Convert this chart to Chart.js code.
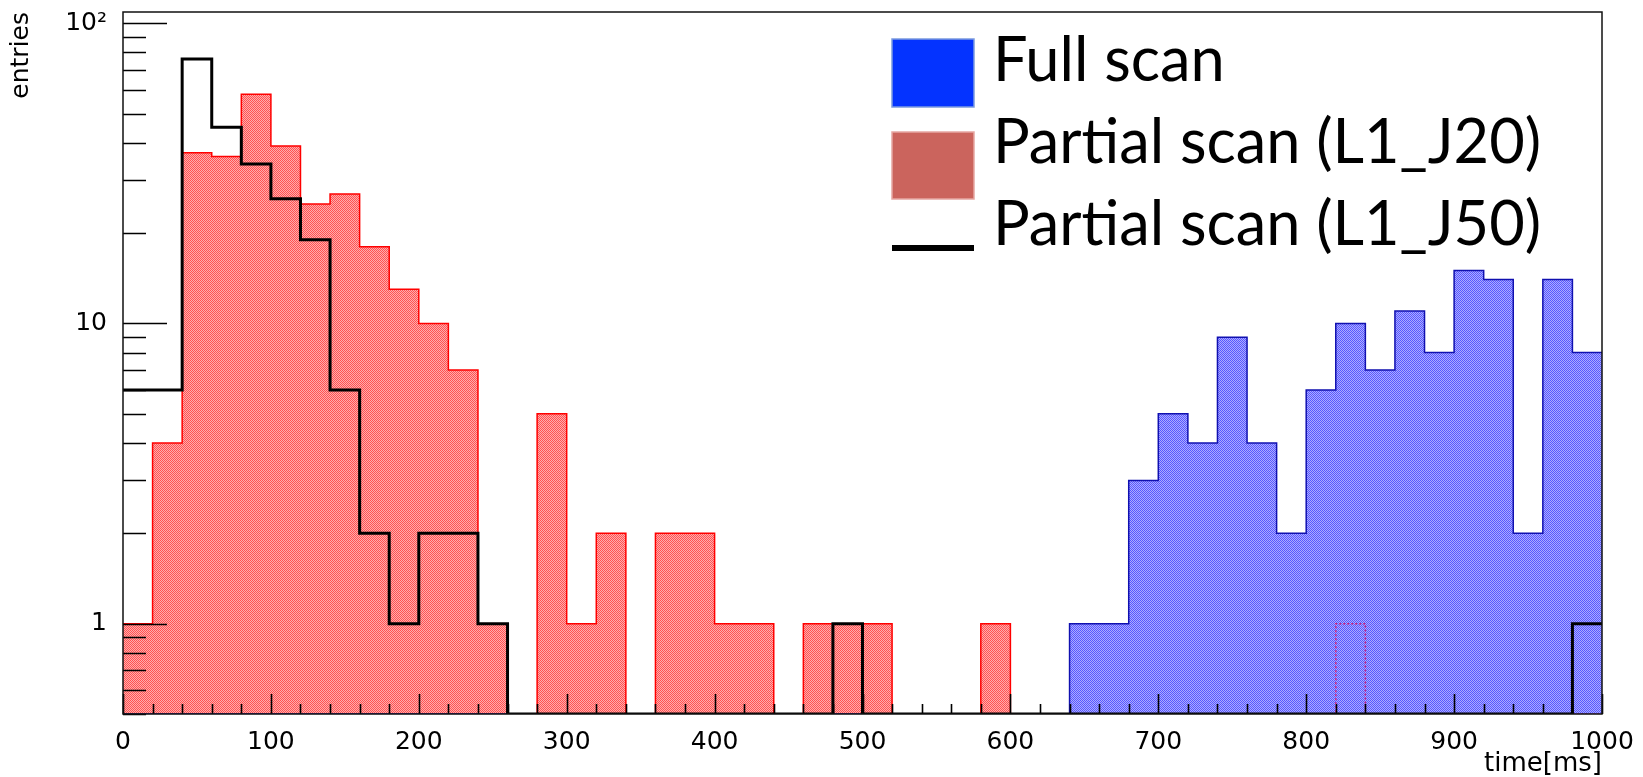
<!DOCTYPE html>
<html>
<head>
<meta charset="utf-8">
<script src="https://cdn.jsdelivr.net/npm/chart.js@4.4.1/dist/chart.umd.min.js"></script>
<style>
  html, body { margin: 0; padding: 0; background: #fff; }
  #wrap { width: 1643px; height: 777px; }
</style>
</head>
<body>
<div id="wrap"><canvas id="histChart" width="1643" height="777"></canvas></div>
<script>
// Bin edges of the time histogram (ms), 20 ms bins
const binEdges = [0, 20, 40, 60, 80, 100, 120, 140, 160, 180, 200, 220, 240, 260, 280, 300, 320, 340, 360, 380,
    400, 420, 440, 460, 480, 500, 520, 540, 560, 580, 600, 620, 640, 660, 680, 700, 720, 740, 760, 780,
    800, 820, 840, 860, 880, 900, 920, 940, 960, 980, 1000];

// Entries per bin
const fullScan = [0, 0, 0, 0, 0, 0, 0, 0, 0, 0, 0, 0, 0, 0, 0, 0, 0, 0, 0, 0,
    0, 0, 0, 0, 0, 0, 0, 0, 0, 0, 0, 0, 1, 1, 3, 5, 4, 9, 4, 2,
    6, 10, 7, 11, 8, 15, 14, 2, 14, 8];
const partialJ20 = [1, 4, 37, 36, 58, 39, 25, 27, 18, 13, 10, 7, 1, 0, 5, 1, 2, 0, 2, 2,
    1, 1, 0, 1, 1, 1, 0, 0, 0, 1, 0, 0, 0, 0, 0, 0, 0, 0, 0, 0,
    0, 1, 0, 0, 0, 0, 0, 0, 0, 0];
const partialJ50 = [6, 6, 76, 45, 34, 26, 19, 6, 2, 1, 2, 2, 1, 0, 0, 0, 0, 0, 0, 0,
    0, 0, 0, 0, 1, 0, 0, 0, 0, 0, 0, 0, 0, 0, 0, 0, 0, 0, 0, 0,
    0, 0, 0, 0, 0, 0, 0, 0, 0, 1];

const seriesLabels = ['Full scan', 'Partial scan (L1_J20)', 'Partial scan (L1_J50)'];

// Axis ticks
const xTickValues = [0, 100, 200, 300, 400, 500, 600, 700, 800, 900, 1000];
const yTickValues = [1, 10, 100];
const yTickLabels = ['1', '10', '10²'];
const Y_MIN = 0.5;
const Y_MAX = 109;

const canvas = document.getElementById('histChart');
const mainCtx = canvas.getContext('2d');

// ROOT-like dotted fill pattern
function makePattern(dark, light) {
    const c = document.createElement('canvas');
    c.width = 2;
    c.height = 2;
    const g = c.getContext('2d');
    g.fillStyle = dark;
    g.fillRect(0, 0, 1, 1);
    g.fillRect(1, 1, 1, 1);
    g.fillStyle = light;
    g.fillRect(1, 0, 1, 1);
    g.fillRect(0, 1, 1, 1);
    return mainCtx.createPattern(c, 'repeat');
}

// histogram -> step points at bin low edges, plus closing point at the last edge
// empty bins sit on the axis floor, like ROOT draws them
function toSteps(values) {
    const pts = values.map((v, i) => ({ x: binEdges[i], y: v > 0 ? v : Y_MIN }));
    const last = values[values.length - 1];
    pts.push({ x: binEdges[binEdges.length - 1], y: last > 0 ? last : Y_MIN });
    return pts;
}

const insideTicks = {
    id: 'insideTicks',
    afterDatasetsDraw(chart) {
        const { ctx, chartArea: a, scales: { x, y } } = chart;
        ctx.save();
        ctx.strokeStyle = '#000';
        ctx.lineWidth = 1.6;
        ctx.beginPath();
        // y: majors at decades, minors at 2..9
        for (let d = 0.1; d <= 100; d *= 10) {
            for (let k = 1; k <= 9; k++) {
                const v = d * k;
                if (v < Y_MIN || v > Y_MAX) continue;
                const len = k === 1 ? 44 : 23;
                const py = Math.round(y.getPixelForValue(v)) + 0.5;
                ctx.moveTo(a.left, py);
                ctx.lineTo(a.left + len, py);
            }
        }
        // x: majors every 100, minors every 20
        for (let t = 0; t <= 1000; t += 20) {
            const len = t % 100 === 0 ? 20 : 10;
            const px = Math.round(x.getPixelForValue(t)) + 0.5;
            ctx.moveTo(px, a.bottom);
            ctx.lineTo(px, a.bottom - len);
        }
        ctx.stroke();
        // frame
        ctx.lineWidth = 1.5;
        ctx.strokeStyle = '#111';
        ctx.strokeRect(a.left, a.top, a.right - a.left, a.bottom - a.top);
        ctx.restore();
    }
};

const legendBox = {
    id: 'legendBox',
    afterDraw(chart) {
        const ctx = chart.ctx;
        ctx.save();
        // swatches
        ctx.fillStyle = '#0433ff';
        ctx.fillRect(892, 39, 82, 68);
        ctx.strokeStyle = '#7b9be0';
        ctx.lineWidth = 1.5;
        ctx.strokeRect(892, 39, 82, 68);
        ctx.fillStyle = '#cb645d';
        ctx.fillRect(892, 132, 82, 67);
        ctx.strokeStyle = '#e6a7a2';
        ctx.strokeRect(892, 132, 82, 67);
        ctx.fillStyle = '#000';
        ctx.fillRect(892, 245, 82, 6);
        // labels, font fitted to the reference text width
        let size = 60;
        ctx.font = size + 'px Lato';
        const w = ctx.measureText(seriesLabels[1]).width;
        size = size * 548 / w;
        ctx.font = size.toFixed(1) + 'px Lato';
        ctx.textBaseline = 'alphabetic';
        ctx.textAlign = 'left';
        seriesLabels.forEach((t, i) => ctx.fillText(t, 993, 81 + i * 82));
        ctx.restore();
    }
};

const tickFont = { family: 'DejaVu Sans', size: 25, lineHeight: 1 };
const titleFont = { family: 'DejaVu Sans', size: 25 };

// J20 outline shows only as a dotted trace where it lies inside the full-scan fill
const underFull = (c) => fullScan[c.p0DataIndex] > 0;

new Chart(mainCtx, {
    type: 'line',
    data: {
        datasets: [
            {
                label: seriesLabels[0],
                data: toSteps(fullScan),
                stepped: true,
                fill: 'start',
                backgroundColor: makePattern('rgb(88,88,255)', 'rgb(172,172,255)'),
                borderColor: '#1010b0',
                borderWidth: 1.5,
                pointRadius: 0,
                order: 1
            },
            {
                label: seriesLabels[1],
                data: toSteps(partialJ20),
                stepped: true,
                fill: 'start',
                backgroundColor: makePattern('rgb(255,82,82)', 'rgb(255,172,172)'),
                borderColor: '#ff0000',
                borderWidth: 1.5,
                pointRadius: 0,
                order: 2,
                segment: {
                    borderDash: (c) => underFull(c) ? [2, 2] : undefined,
                    borderColor: (c) => underFull(c) ? '#d0207a' : undefined
                }
            },
            {
                label: seriesLabels[2],
                data: toSteps(partialJ50),
                stepped: true,
                fill: false,
                borderColor: '#000',
                borderWidth: 3,
                pointRadius: 0,
                order: 0
            }
        ]
    },
    options: {
        responsive: false,
        animation: false,
        layout: { padding: { left: 0, right: 41, top: 12, bottom: 0 } },
        plugins: {
            legend: { display: false },
            tooltip: { enabled: false },
            filler: { drawTime: 'beforeDatasetsDraw' }
        },
        scales: {
            x: {
                type: 'linear',
                min: 0,
                max: 1000,
                afterBuildTicks: (axis) => { axis.ticks = xTickValues.map(v => ({ value: v })); },
                ticks: {
                    font: tickFont,
                    color: '#000',
                    padding: 16,
                    maxRotation: 0,
                    autoSkip: false,
                    callback: (v) => String(v)
                },
                grid: { display: false, drawTicks: false },
                border: { display: false },
                title: {
                    display: true,
                    text: 'time[ms]',
                    align: 'end',
                    font: { family: 'DejaVu Sans', size: 26, lineHeight: 1 },
                    color: '#000',
                    padding: { top: 0, bottom: 0 }
                },
                afterFit: (axis) => {
                    axis.height = 63;
                    axis.paddingLeft = 0;
                    axis.paddingRight = 0;
                }
            },
            y: {
                type: 'logarithmic',
                min: Y_MIN,
                max: Y_MAX,
                afterBuildTicks: (axis) => { axis.ticks = yTickValues.map(v => ({ value: v })); },
                ticks: {
                    font: tickFont,
                    color: '#000',
                    padding: 16,
                    autoSkip: false,
                    callback: (v) => yTickLabels[yTickValues.indexOf(v)]
                },
                grid: { display: false, drawTicks: false },
                border: { display: false },
                title: {
                    display: true,
                    text: 'entries',
                    align: 'end',
                    font: titleFont,
                    color: '#000',
                    padding: { top: 6, bottom: 0 }
                },
                afterFit: (axis) => {
                    axis.width = 123;
                    axis.paddingTop = 0;
                    axis.paddingBottom = 0;
                }
            }
        }
    },
    plugins: [insideTicks, legendBox]
});
</script>
</body>
</html>
